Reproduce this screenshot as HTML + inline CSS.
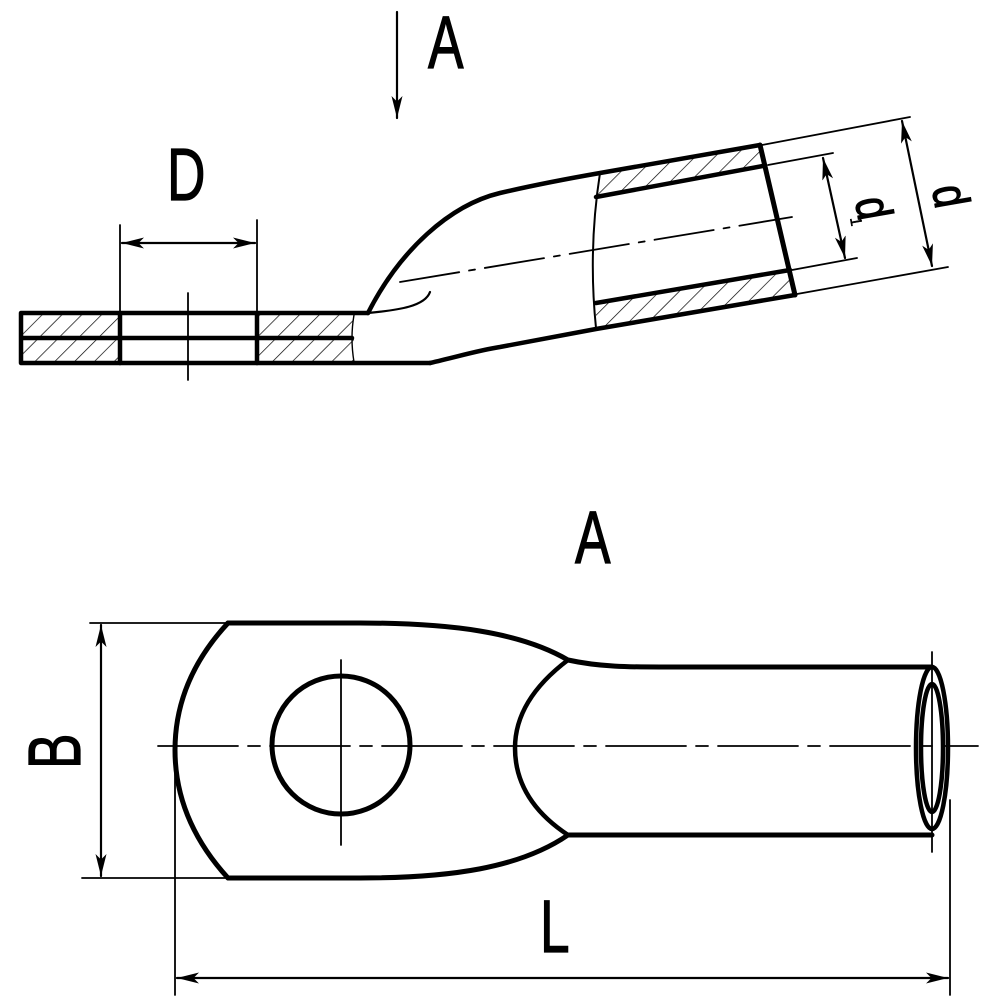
<!DOCTYPE html>
<html><head><meta charset="utf-8"><style>html,body{margin:0;padding:0;background:#fff}svg{display:block}</style></head>
<body>
<svg width="1000" height="1000" viewBox="0 0 1000 1000" xmlns="http://www.w3.org/2000/svg">
<defs>
<pattern id="h" patternUnits="userSpaceOnUse" width="14" height="14" patternTransform="rotate(45)">
<line x1="0" y1="0" x2="0" y2="14" stroke="#000" stroke-width="1.4"/>
</pattern>
<marker id="ar" viewBox="0 0 20 10" refX="20" refY="5" markerWidth="22" markerHeight="11" markerUnits="userSpaceOnUse" orient="auto-start-reverse">
<path d="M0,0 L20,5 L0,10 L5,5 Z" fill="#000"/>
</marker>
</defs>
<g fill="none" stroke="#000" stroke-linecap="round" stroke-linejoin="round">
<line x1="397" y1="12" x2="397" y2="118" stroke-width="2.2" marker-end="url(#ar)"/>
<rect x="21" y="313" width="99" height="50" fill="url(#h)" stroke="none"/>
<rect x="257" y="313" width="97" height="50" fill="url(#h)" stroke="none"/>
<polygon points="600,173 760,145 763,166 596,197" fill="url(#h)" stroke="none"/>
<polygon points="596,303 790,270 795,295 596,328" fill="url(#h)" stroke="none"/>
<path d="M21,313 H368 M21,363 H430 M21,313 V363 M21,338 H352" stroke-width="4.5"/>
<line x1="120" y1="313" x2="120" y2="363" stroke-width="4.5"/>
<line x1="257" y1="313" x2="257" y2="363" stroke-width="4.5"/>
<path d="M354,315 Q350,338 354,362" stroke-width="1.4"/>
<line x1="120" y1="225" x2="120" y2="313" stroke-width="1.8"/>
<line x1="257" y1="220" x2="257" y2="313" stroke-width="1.8"/>
<line x1="122" y1="243" x2="255" y2="243" stroke-width="2.2" marker-start="url(#ar)" marker-end="url(#ar)"/>
<line x1="188" y1="293" x2="188" y2="380" stroke-width="1.8"/>
<path d="M368,313 C400,250 450,205 500,193 C530,186 560,180 600,173 L760,145" stroke-width="4.5"/>
<path d="M430,363 C460,356 480,350 500,347 L596,329 L795,295" stroke-width="4.5"/>
<path d="M368,313 C400,310 425,306 430,292" stroke-width="2.2"/>
<path d="M596,197 L763,166" stroke-width="4.5"/>
<path d="M596,303 L790,270" stroke-width="4.5"/>
<line x1="760" y1="145" x2="795" y2="295" stroke-width="5"/>
<path d="M600,173 Q588,250 596,328" stroke-width="2"/>
<path d="M400,282 L792,217" stroke-width="1.8" stroke-dasharray="60,10,6,10"/>
<line x1="762" y1="145" x2="910" y2="117" stroke-width="1.8"/>
<line x1="768" y1="165" x2="833" y2="153" stroke-width="1.8"/>
<line x1="792" y1="270" x2="857" y2="258" stroke-width="1.8"/>
<line x1="797" y1="294" x2="948" y2="267" stroke-width="1.8"/>
<line x1="823" y1="158" x2="845" y2="258" stroke-width="2.2" marker-start="url(#ar)" marker-end="url(#ar)"/>
<line x1="902" y1="121" x2="932" y2="266" stroke-width="2.2" marker-start="url(#ar)" marker-end="url(#ar)"/>

<path d="M228,623 H360 C450,623 520,632 568,660 C600,667 630,667 660,667 H932" stroke-width="5"/>
<path d="M228,878 H360 C450,878 520,868 568,835 C600,835 630,835 660,835 H932" stroke-width="5"/>
<path d="M228,623 Q175,680 175,750 Q175,820 228,878" stroke-width="5"/>
<path d="M568,660 Q515,700 515,748 Q515,800 568,835" stroke-width="4.5"/>
<ellipse cx="932" cy="748" rx="16" ry="81" stroke-width="4.5" fill="#fff"/>
<ellipse cx="932" cy="748" rx="11" ry="64" stroke-width="4.5"/>
<circle cx="341" cy="745" r="69" stroke-width="5"/>
<line x1="341" y1="660" x2="341" y2="845" stroke-width="1.8"/>
<line x1="158" y1="746" x2="978" y2="746" stroke-width="1.8" stroke-dasharray="80,10,12,10"/>
<line x1="932" y1="652" x2="932" y2="852" stroke-width="1.8"/>
<line x1="90" y1="623" x2="228" y2="623" stroke-width="1.8"/>
<line x1="82" y1="878" x2="228" y2="878" stroke-width="1.8"/>
<line x1="101" y1="625" x2="101" y2="876" stroke-width="2.2" marker-start="url(#ar)" marker-end="url(#ar)"/>
<line x1="175" y1="750" x2="175" y2="995" stroke-width="1.8"/>
<line x1="950" y1="800" x2="950" y2="995" stroke-width="1.8"/>
<line x1="177" y1="978" x2="948" y2="978" stroke-width="2.2" marker-start="url(#ar)" marker-end="url(#ar)"/>
</g>
<g font-family="Liberation Sans, sans-serif" fill="#000" stroke="#000" stroke-width="1.2">
<text transform="translate(428,68) scale(0.72,1)" font-size="74">A</text>
<text transform="translate(167,200) scale(0.72,1)" font-size="74">D</text>
<text transform="translate(575,563) scale(0.72,1)" font-size="74">A</text>
<text transform="translate(540,952) scale(0.72,1)" font-size="74">L</text>
<text transform="translate(80,769) rotate(-90) scale(0.72,1)" font-size="74">B</text>
<text transform="translate(855,200) rotate(80) scale(0.8,1)" font-size="50">d</text>
<text transform="translate(850,218) rotate(80)" font-size="16" stroke-width="0.5">1</text>
<text transform="translate(932,188) rotate(80) scale(0.8,1)" font-size="50">d</text>
</g>
</svg>
</body></html>
